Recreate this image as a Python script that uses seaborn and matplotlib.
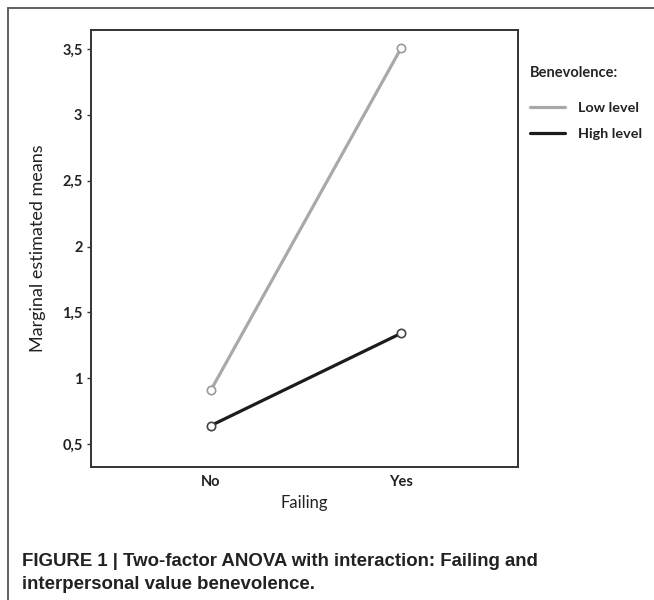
import matplotlib
matplotlib.use("Agg")
import matplotlib.pyplot as plt
from matplotlib.lines import Line2D
import seaborn as sns
import pandas as pd

failing = ["No", "Yes"]
low_level = [0.91, 3.505]
high_level = [0.64, 1.34]
series_names = ["Low level", "High level"]
yticks = [0.5, 1, 1.5, 2, 2.5, 3, 3.5]
ytick_labels = ["0,5", "1", "1,5", "2", "2,5", "3", "3,5"]

df = pd.DataFrame({
    "Failing": failing * 2,
    "mean": low_level + high_level,
    "Benevolence": [series_names[0]] * 2 + [series_names[1]] * 2,
})

sns.set_theme(style="white")
plt.rcParams["font.family"] = ["Lato", "DejaVu Sans"]

colors = {"Low level": "#a9a9a9", "High level": "#1c1c1c"}
edge_colors = {"Low level": "#9a9a9a", "High level": "#444444"}

fig = plt.figure(figsize=(6.54, 6.00), dpi=100)
ax = fig.add_axes([0.139, 0.2217, 0.653, 0.7283])

sns.lineplot(data=df, x="Failing", y="mean", hue="Benevolence",
             palette=colors, marker="o", markersize=6,
             markerfacecolor="white", markeredgewidth=1.2,
             linewidth=2.3, legend=False, ax=ax, sort=False)

for line in ax.lines:
    c = matplotlib.colors.to_hex(line.get_color())
    for name, col in colors.items():
        if c.lower() == col.lower():
            line.set_markeredgecolor(edge_colors[name])
    line.set_markerfacecolor("white")
    line.set_zorder(3)

ax.set_xlim(-0.632, 1.616)
ax.set_ylim(0.325, 3.645)
ax.set_yticks(yticks)
ax.set_yticklabels(ytick_labels, fontsize=10.5, fontweight="bold", color="#222222")
ax.set_xticks([0, 1])
ax.set_xticklabels(failing, fontsize=10.5, fontweight="bold", color="#222222")
ax.tick_params(axis="y", left=True, length=3, width=1, color="#333333", pad=3)
ax.tick_params(axis="x", bottom=False, pad=0)
for s in ax.spines.values():
    s.set_color("#333333")
    s.set_linewidth(1.4)

ax.set_xlabel("Failing", fontsize=12, color="#222222", labelpad=4)
ax.set_ylabel("Marginal estimated means", fontsize=13, color="#222222", labelpad=12)

handles = [Line2D([0], [0], color=colors[n], lw=2.3) for n in series_names]
leg = fig.legend(handles, series_names, title="Benevolence:",
                 loc="upper left", bbox_to_anchor=(0.791, 0.912),
                 frameon=False, fontsize=10.4, title_fontsize=10.5,
                 handlelength=2.4, handletextpad=0.9, labelspacing=0.95,
                 alignment="left")
leg.get_title().set_fontweight("bold")
leg._legend_box.sep = 16
for t in leg.get_texts():
    t.set_fontweight("bold")
    t.set_color("#222222")

# outer frame (top and left edges)
fig.add_artist(Line2D([0.0115, 1.0], [0.987, 0.987], transform=fig.transFigure,
                      color="#555555", lw=1.3))
fig.add_artist(Line2D([0.0115, 0.0115], [0.0, 0.987], transform=fig.transFigure,
                      color="#555555", lw=1.3))

fig.text(0.034, 0.011,
         "FIGURE 1 | Two-factor ANOVA with interaction: Failing and\ninterpersonal value benevolence.",
         fontsize=13.4, fontweight="bold", family=["Liberation Sans", "DejaVu Sans"],
         color="#222222", linespacing=1.5, va="bottom", ha="left")

fig.savefig("out.png", dpi=100)
